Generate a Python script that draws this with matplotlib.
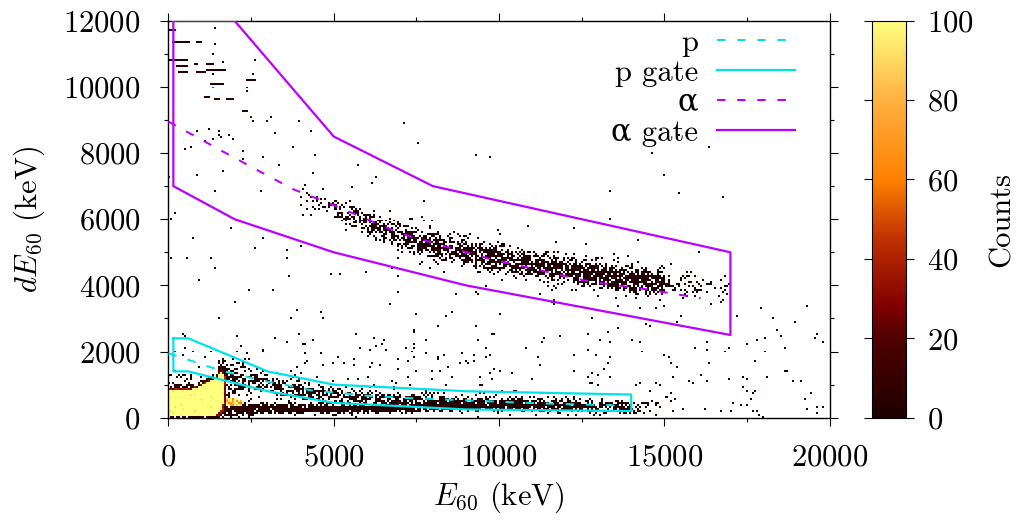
import numpy as np
import matplotlib
matplotlib.use("Agg")
import matplotlib.pyplot as plt
from matplotlib.colors import LinearSegmentedColormap
from matplotlib.lines import Line2D
from matplotlib.path import Path
from matplotlib.font_manager import FontProperties

# ------------------------------------------------------------------
# Values (keV)
# ------------------------------------------------------------------
# reference lines
p_line_x = [0, 600, 1200, 1800, 2400, 3000, 3600, 4300, 5200, 6000, 7200, 8500, 9000, 10900, 12100, 13600]
p_line_y = [1950, 1750, 1550, 1370, 1230, 1090, 980, 830, 745, 665, 595, 545, 525, 445, 410, 370]
a_line_x = [0, 1660, 2770, 3780, 4985, 7007, 8218, 9760, 12765, 14470, 16100]
a_line_y = [8950, 8040, 7440, 6905, 6430, 5574, 5221, 4790, 4111, 3880, 3610]

# gates
p_gate_x = [150, 600, 3000, 5000, 9000, 14000, 14000, 9000, 5000, 3000, 600, 150, 150]
p_gate_y = [2400, 2400, 1400, 1000, 800, 700, 200, 250, 450, 800, 1400, 1400, 2400]
a_gate_x = [150, 2000, 5000, 8000, 17000, 17000, 9000, 5000, 2000, 150, 150]
a_gate_y = [12000, 12000, 8500, 7000, 5000, 2500, 4000, 5000, 6000, 7000, 12000]

# alpha band (centre line, and events per slice)
a_band_cx = [4000, 5000, 6000, 7000, 8000, 9000, 10000, 11000, 12000, 13000, 14000, 15000, 16000, 17000]
a_band_cy = [6700, 6350, 5900, 5470, 5220, 5000, 4820, 4640, 4470, 4300, 4200, 4080, 3950, 3850]
a_seg_x0 = [4000, 5000, 6000, 7000, 8000, 9000, 10000, 11000, 12000, 13000, 14000, 14500, 15000, 16000]
a_seg_w = [1000, 1000, 1000, 1000, 1000, 1000, 1000, 1000, 1000, 1000, 500, 500, 1000, 1000]
a_seg_n = [25, 90, 150, 190, 200, 210, 220, 230, 240, 250, 150, 110, 45, 22]
a_seg_sig = [180, 190, 200, 210, 210, 210, 210, 210, 210, 200, 190, 190, 200, 200]
a_halo_n = [4, 6, 8, 8, 8, 8, 8, 8, 8, 8, 5, 5, 6, 4]

# proton band (around the p line)
p_seg_x0 = [1500, 2500, 3500, 4500, 5500, 6500, 7500, 8500, 9500, 10500, 11500, 12500, 13500]
p_seg_n = [60, 90, 100, 100, 100, 90, 90, 90, 80, 70, 60, 50, 30]
p_seg_sig = [180, 170, 160, 150, 140, 130, 120, 110, 100, 100, 100, 100, 100]

# dense low ridge
ridge_cx = [2000, 2500, 3000, 5000, 7000, 8500, 10000, 12000, 14000, 15000]
ridge_cy = [320, 290, 280, 280, 300, 360, 430, 420, 400, 400]
ridge_x0 = [2000, 3000, 4000, 5000, 6000, 7000, 8000, 9000, 10000, 11000, 12000, 13000, 14000]
ridge_n = [200, 190, 180, 170, 160, 150, 140, 120, 90, 70, 60, 50, 15]
ridge_sig = [60, 60, 60, 60, 60, 60, 70, 80, 90, 90, 90, 90, 90]

# scattered background: (x0, x1, y0, y1, events)
bg_x0 = [0, 10000, 0, 10000, 0, 10000, 0, 4500, 1750, 1700, 1450, 0]
bg_x1 = [10000, 20000, 10000, 20000, 10000, 20000, 4500, 17000, 2300, 2600, 2300, 1600]
bg_y0 = [0, 0, 1300, 1300, 2600, 2600, 4500, 4500, 700, 50, 900, 900]
bg_y1 = [1300, 1300, 2600, 2600, 4500, 4500, 9000, 9000, 1400, 350, 1700, 1300]
bg_n = [130, 70, 90, 45, 25, 14, 40, 15, 45, 90, 35, 45]

# low-energy saturated blob (polygons) and level per bin
blob_core = [(0, 60), (0, 820), (300, 870), (600, 830), (900, 920), (1200, 1060), (1480, 1200),
             (1640, 1420), (1720, 1150), (1720, 700), (1650, 300), (1450, 60)]
blob_mid = [(0, 30), (0, 870), (300, 920), (600, 880), (900, 960), (1200, 1100), (1460, 1240),
            (1630, 1500), (1760, 1200), (1770, 700), (1720, 280), (1550, 30)]
blob_rim = [(0, 0), (0, 960), (300, 1010), (600, 970), (900, 1040), (1200, 1180), (1440, 1320),
            (1620, 1640), (1830, 1300), (1860, 700), (1810, 250), (1720, 0)]
blob_lobe = [(1750, 600), (2250, 560), (2300, 400), (1900, 330), (1750, 360)]
blob_levels = [5, 30, 150, 92]   # rim, mid, core, lobe
blob_fill = [0.75, 1.0, 1.0, 0.9]  # fraction of bins filled

# short horizontal streaks in the top-left corner
streak_x0 = [0, 140, 900, 0, 800, 300, 1200, 350, 850, 1200, 1310, 1110, 1430, 1800, 2420, 2300]
streak_x1 = [200, 650, 1000, 560, 850, 560, 1370, 570, 1100, 1640, 1660, 1260, 1560, 1960, 2620, 2420]
streak_y = [11740, 11350, 11350, 10830, 10740, 10630, 10700, 10480, 10480, 10530, 10140, 9720, 9620, 9620, 10230, 9270]
streak_c = [3, 4, 3, 4, 3, 5, 4, 3, 8, 3, 5, 4, 6, 12, 3, 4]

# isolated events
iso_x = [1410, 1400, 1350, 1660, 1750, 1350, 2620, 2570, 2420, 2420, 2520, 2570, 2970, 3120, 1380,
         1610, 7530, 9740, 17900, 19300, 18400]
iso_y = [11770, 11300, 11000, 10780, 10530, 10390, 10830, 10390, 10000, 9900, 9110, 8960, 8960, 9110,
         10000, 8520, 8300, 7880, 3350, 3400, 2700]
iso_c = [2, 2, 1, 1, 1, 1, 1, 1, 2, 2, 30, 1, 20, 2, 45, 1, 1, 1, 1, 1, 1]

# ------------------------------------------------------------------
# Build the 2D histogram from the values above (deterministic scatter)
# ------------------------------------------------------------------
_counter = [0]


def scatter01(n, d):
    """Deterministic, irregular numbers in [0,1) (hash of the event index)."""
    k = np.arange(_counter[0] + 1, _counter[0] + n + 1, dtype=float)
    _counter[0] += n
    out = []
    for j in range(d):
        v = np.sin(k * (12.9898 + 3.17 * j) + 78.233 * (j + 1)) * 43758.5453
        out.append(v - np.floor(v))
    return np.column_stack(out)


def band(x0s, ns, sigs, cx, cy, ws=None, dy=0.0):
    xs, ys = [], []
    if ws is None:
        ws = [1000.0] * len(x0s)
    for x0, w, n, s in zip(x0s, ws, ns, sigs):
        u = scatter01(n, 3)
        x = x0 + u[:, 0] * w
        z = np.sqrt(-2.0 * np.log(1.0 - u[:, 1])) * np.cos(2 * np.pi * u[:, 2])
        xs.append(x)
        ys.append(np.interp(x, cx, cy) + dy + s * z)
    return np.concatenate(xs), np.concatenate(ys)


ex, ey = [], []
x, y = band(a_seg_x0, a_seg_n, a_seg_sig, a_band_cx, a_band_cy, ws=a_seg_w); ex.append(x); ey.append(y)
x, y = band(a_seg_x0, a_halo_n, [650] * len(a_seg_x0), a_band_cx, a_band_cy, ws=a_seg_w); ex.append(x); ey.append(y)
x, y = band(p_seg_x0, p_seg_n, p_seg_sig, p_line_x, p_line_y, dy=-80); ex.append(x); ey.append(y)
x, y = band(ridge_x0, ridge_n, ridge_sig, ridge_cx, ridge_cy); ex.append(x); ey.append(y)
for x0, x1, y0, y1, n in zip(bg_x0, bg_x1, bg_y0, bg_y1, bg_n):
    u = scatter01(n, 2)
    ex.append(x0 + u[:, 0] * (x1 - x0))
    ey.append(y0 + u[:, 1] * (y1 - y0))
ex = np.concatenate(ex)
ey = np.concatenate(ey)

nx, ny = 330, 200
xe = np.linspace(0, 20000, nx + 1)
ye = np.linspace(0, 12000, ny + 1)
H, _, _ = np.histogram2d(ex, ey, bins=[xe, ye])

xc = 0.5 * (xe[:-1] + xe[1:])
yc = 0.5 * (ye[:-1] + ye[1:])
XC, YC = np.meshgrid(xc, yc, indexing="ij")
pts = np.column_stack([XC.ravel(), YC.ravel()])
cellhash = scatter01(H.size, 2).reshape(H.shape + (2,))
for poly, lev, frac in zip([blob_rim, blob_mid, blob_core, blob_lobe], blob_levels, blob_fill):
    inside = Path(poly).contains_points(pts).reshape(H.shape) & (cellhash[..., 0] < frac)
    val = lev * (0.6 + 0.8 * cellhash[..., 1])
    H[inside] = np.maximum(H[inside], val[inside])

for x0, x1, yy, c in zip(streak_x0, streak_x1, streak_y, streak_c):
    j = np.searchsorted(ye, yy) - 1
    i0 = np.searchsorted(xe, x0) - 1
    i1 = np.searchsorted(xe, x1)
    H[max(i0, 0):i1, j] += c
for xx, yy, c in zip(iso_x, iso_y, iso_c):
    H[np.searchsorted(xe, xx) - 1, np.searchsorted(ye, yy) - 1] += c

Hm = np.ma.masked_where(H <= 0, H)

# ------------------------------------------------------------------
# Plot
# ------------------------------------------------------------------
plt.rcParams["font.family"] = "serif"
plt.rcParams["font.serif"] = ["cmr10"]
plt.rcParams["mathtext.fontset"] = "cm"
plt.rcParams["axes.formatter.use_mathtext"] = True
plt.rcParams["font.size"] = 22

cmap = LinearSegmentedColormap.from_list(
    "hist", [(0.0, "#1e0000"), (0.2, "#500000"), (0.28, "#800000"), (0.45, "#c03000"),
             (0.6, "#ff8000"), (0.8, "#ffb040"), (1.0, "#ffff80")])
cmap.set_bad((1, 1, 1, 0))

W, Hh = 1025.0, 521.0
fig = plt.figure(figsize=(W / 100, Hh / 100), dpi=100)
ax = fig.add_axes([168.4 / W, 1 - 417.7 / Hh, 661.2 / W, 397.0 / Hh])
cax = fig.add_axes([872.3 / W, 1 - 417.7 / Hh, 33.4 / W, 397.0 / Hh])

im = ax.imshow(Hm.T, origin="lower", extent=[0, 20000, 0, 12000], aspect="auto",
               interpolation="nearest", cmap=cmap, vmin=0, vmax=100, zorder=1)

cyan = "#00e3ea"
purple = "#bb00ff"
dash = (4.2, 5.8)
ax.plot(p_line_x, p_line_y, color=cyan, lw=1.45, dashes=dash, zorder=3)
ax.plot(p_gate_x, p_gate_y, color=cyan, lw=1.6, zorder=3)
ax.plot(a_line_x, a_line_y, color=purple, lw=1.45, dashes=dash, zorder=3)
ax.plot(a_gate_x, a_gate_y, color=purple, lw=1.6, zorder=3)

ax.set_xlim(0, 20000)
ax.set_ylim(0, 12000)
ax.set_xticks(np.arange(0, 20001, 5000))
ax.set_xticks(np.arange(0, 20001, 2500), minor=True)
ax.set_yticks(np.arange(0, 12001, 2000))
ax.set_yticks(np.arange(0, 12001, 1000), minor=True)
ax.tick_params(which="both", direction="out", top=True, right=True, width=0.8)
ax.tick_params(which="major", length=6)
ax.tick_params(which="minor", length=3)
ax.tick_params(axis="y", which="major", pad=14)
ax.tick_params(axis="x", which="major", pad=13)
for s in ax.spines.values():
    s.set_linewidth(1.0)

ax.set_xlabel(r"$E_{60}$ (keV)", labelpad=6)
ax.set_ylabel(r"$dE_{60}$ (keV)", labelpad=12)

handles = [Line2D([], [], color=cyan, lw=1.45, dashes=dash),
           Line2D([], [], color=cyan, lw=1.6),
           Line2D([], [], color=purple, lw=1.45, dashes=dash),
           Line2D([], [], color=purple, lw=1.6)]
labels = ["p", "p gate", "\u03b1", "\u03b1 gate"]
leg_font = FontProperties(family=["cmr10", "DejaVu Serif"], size=22)
ax.legend(handles, labels, loc="upper right", bbox_to_anchor=(0.948, 0.978), frameon=False,
          markerfirst=False, handlelength=2.55, handletextpad=0.62, labelspacing=0.08,
          borderpad=0, borderaxespad=0, prop=leg_font)

cb = fig.colorbar(im, cax=cax)
cb.set_ticks(np.arange(0, 101, 20))
cb.outline.set_linewidth(0.8)
cax.yaxis.set_ticks_position("both")
cax.tick_params(direction="out", length=6, width=0.8, labelleft=False, labelright=True, pad=9)
cb.set_label("Counts", labelpad=11)

fig.savefig("out.png", dpi=100)
